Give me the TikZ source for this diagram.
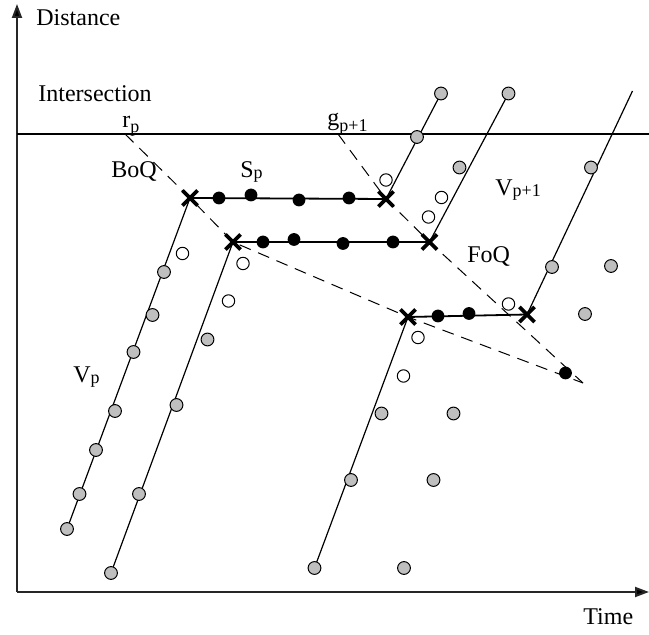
\documentclass[tikz,border=0pt]{standalone}
\usepackage{fontspec}
\setmainfont{Liberation Serif}
\usetikzlibrary{arrows.meta,shapes.misc,backgrounds}
\newcommand{\lowidx}[2][0.5pt]{\raisebox{-#1}{\fontsize{9}{10}\selectfont #2}}

\begin{document}
\begin{tikzpicture}[x=0.5pt,y=-0.5pt,
  veh/.style={circle,draw,fill=black!25,line width=0.5pt,inner sep=0pt,minimum size=6.4pt},
  gone/.style={circle,draw,fill=white,line width=0.5pt,inner sep=0pt,minimum size=6.2pt},
  queued/.style={circle,fill=black,inner sep=0pt,minimum size=6.4pt},
  stopx/.style={cross out,draw,line width=1.8pt,inner sep=0pt,minimum size=5.8pt},
  traj/.style={line width=0.6pt},
  qrow/.style={line width=0.9pt},
  wave/.style={line width=0.5pt,dash pattern=on 6pt off 4pt},
  axis/.style={line width=1pt,black!85,-{Triangle[length=7pt,width=5pt,fill=black]}},
  lbl/.style={font=\fontsize{12}{14}\selectfont,inner sep=0pt,anchor=base west}]
\useasboundingbox (0,0) rectangle (649,635);

\coordinate (origin) at (17,592);
\coordinate (ytip) at (17,4);
\coordinate (xtip) at (649,592);
\coordinate (ileft) at (17,134);
\coordinate (iright) at (649,134);
\coordinate (rp) at (125,134);
\coordinate (gp) at (338,134);
\coordinate (meet) at (583,383);
\coordinate (top6) at (632.5,91);

\node[stopx] (x1) at (190,198) {};
\node[stopx] (x2) at (233,242) {};
\node[stopx] (x3) at (408,317) {};
\node[stopx] (x4) at (386,199) {};
\node[stopx] (x5) at (429.5,242) {};
\node[stopx] (x6) at (527,314.5) {};

\node[queued] (q11) at (219,198) {};
\node[queued] (q12) at (251,195) {};
\node[queued] (q13) at (299,200) {};
\node[queued] (q14) at (349,198) {};
\node[queued] (q21) at (263,242) {};
\node[queued] (q22) at (294,239.5) {};
\node[queued] (q23) at (343,243.5) {};
\node[queued] (q24) at (393,242) {};
\node[queued] (q31) at (438,316) {};
\node[queued] (q32) at (469,313.5) {};
\node[queued] (qlast) at (565.5,373) {};

\node[veh] (a1) at (67,529) {};
\node[veh] (a2) at (79.5,494) {};
\node[veh] (a3) at (96,450) {};
\node[veh] (a4) at (115,411) {};
\node[veh] (a5) at (133.5,352) {};
\node[veh] (a6) at (152.5,315) {};
\node[veh] (a7) at (164,272) {};
\node[veh] (b1) at (111,573) {};
\node[veh] (b2) at (139,494) {};
\node[veh] (b3) at (176.5,405) {};
\node[veh] (b4) at (207.5,339.5) {};
\node[veh] (c1) at (314.5,568) {};
\node[veh] (c2) at (351,480) {};
\node[veh] (c3) at (381.5,413.5) {};
\node[veh] (d1) at (404,568) {};
\node[veh] (d2) at (433.5,480) {};
\node[veh] (d3) at (453.5,413.5) {};
\node[veh] (e1) at (417,137) {};
\node[veh] (e2) at (441,93.5) {};
\node[veh] (f1) at (508.5,93.5) {};
\node[veh] (f2) at (459.5,167.5) {};
\node[veh] (h1) at (552,267) {};
\node[veh] (h2) at (591,167.5) {};
\node[veh] (k1) at (611,266) {};
\node[veh] (k2) at (585,314) {};

\node[gone] (o1) at (182.5,253.5) {};
\node[gone] (o2) at (228.5,301) {};
\node[gone] (o3) at (243,263.5) {};
\node[gone] (o4) at (403.5,376) {};
\node[gone] (o5) at (418,337.5) {};
\node[gone] (o6) at (386,180) {};
\node[gone] (o7) at (441.5,197.5) {};
\node[gone] (o8) at (428.5,217) {};
\node[gone] (o9) at (508.5,304) {};

\begin{scope}[on background layer]
\draw[axis] (origin) -- (ytip);
\draw[axis] (origin) -- (xtip);
\draw[line width=0.7pt] (ileft) -- (iright);
\draw[traj] (a1.center) -- (x1.center);
\draw[traj] (b1.center) -- (x2.center);
\draw[traj] (c1.center) -- (x3.center);
\draw[traj] (x4.center) -- (e2.center);
\draw[traj] (x5.center) -- (f1.center);
\draw[traj] (x6.center) -- (top6);
\draw[qrow] (x1.center) -- (x4.center);
\draw[qrow] (x2.center) -- (x5.center);
\draw[qrow] (x3.center) -- (x6.center);
\draw[wave] (rp) -- (x1.center) -- (x2.center) -- (x3.center) -- (meet);
\draw[wave] (gp) -- (x4.center) -- (x5.center) -- (meet);
\end{scope}

\node[lbl] (dist) at (36,26) {Distance};
\node[lbl] (time) at (583,625) {Time};
\node[lbl] (isec) at (38,102) {Intersection};
\node[lbl] (rlbl) at (122,128) {r\lowidx[2.5pt]{p}};
\node[lbl] (glbl) at (327,126) {g\lowidx[3pt]{p+1}};
\node[lbl] (boq) at (111,178) {BoQ};
\node[lbl] (slbl) at (240,178) {S\lowidx{p}};
\node[lbl] (foq) at (467,263) {FoQ};
\node[lbl] (vnext) at (495,196) {V\lowidx{p+1}};
\node[lbl] (vcur) at (73,383) {V\lowidx{p}};
\end{tikzpicture}
\end{document}
